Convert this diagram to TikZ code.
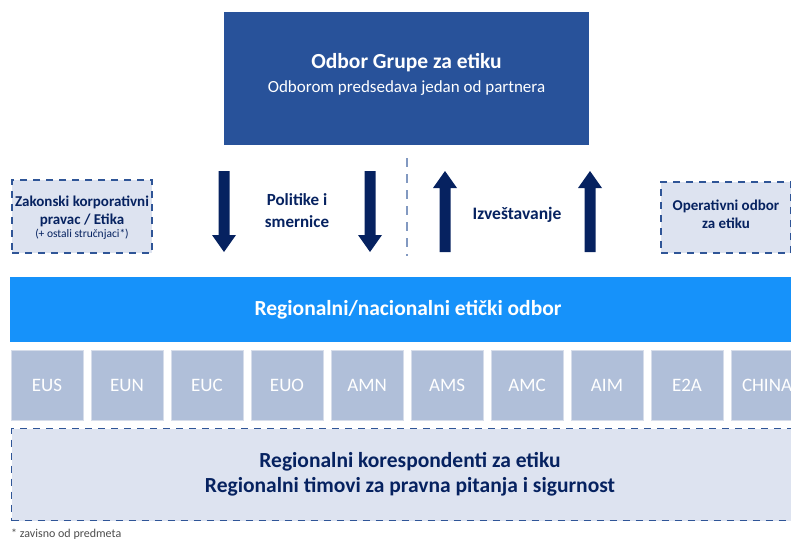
\documentclass[tikz,border=0pt]{standalone}
\usepackage{fontspec}
\setmainfont{Carlito}
\definecolor{topblue}{RGB}{40,82,154}
\definecolor{band}{RGB}{22,146,250}
\definecolor{navy}{RGB}{6,34,96}
\definecolor{dashc}{RGB}{47,85,151}
\definecolor{pale}{RGB}{221,227,240}
\definecolor{region}{RGB}{176,191,217}
\definecolor{regline}{RGB}{214,221,234}
\begin{document}
\begin{tikzpicture}[x=1pt,y=-1pt,
  dashbox/.style={draw=dashc,line width=1.4pt,dash pattern=on 7pt off 6pt,fill=pale,inner sep=0pt},
  regbox/.style={draw=regline,line width=0.8pt,fill=region,minimum width=72pt,minimum height=70pt,inner sep=0pt},
  regtext/.style={text=white,font=\fontsize{19}{22}\selectfont},
  navytext/.style={text=navy,font=\bfseries\fontsize{15}{18}\selectfont,align=center},
  bigarrow/.style={fill=navy,draw=none}]
\useasboundingbox (0,0) rectangle (791,542);
% top box
\node[fill=topblue,minimum width=365pt,minimum height=133pt,inner sep=0pt] (top) at (406.5,78.5) {};
\node[text=white,font=\bfseries\fontsize{21.5}{25}\selectfont] (toptitle) at (406.5,63) {Odbor Grupe za etiku};
\node[text=white,font=\fontsize{17}{20}\selectfont] (topsub) at (406.5,88) {Odborom predsedava jedan od partnera};
% side dashed boxes
\node[dashbox,minimum width=140pt,minimum height=73pt] (left) at (82,216.5) {};
\node[navytext,font=\bfseries\fontsize{15}{18}\selectfont] (lefttext) at (82,211) {Zakonski korporativni\\pravac / Etika};
\node[text=navy,font=\fontsize{11.5}{14}\selectfont] (leftsub) at (82,234) {(+ ostali stručnjaci*)};
\node[dashbox,minimum width=130pt,minimum height=71pt] (right) at (726,217.5) {};
\node[navytext] (righttext) at (726,214) {Operativni odbor\\za etiku};
% arrows
\foreach \cx in {224,370}{
  \fill[bigarrow] (\cx-5.5,171) -- (\cx+5.5,171) -- (\cx+5.5,235) -- (\cx+12,235) -- (\cx,252) -- (\cx-12,235) -- (\cx-5.5,235) -- cycle;
}
\foreach \cx in {445,590}{
  \fill[bigarrow] (\cx-5.5,252) -- (\cx+5.5,252) -- (\cx+5.5,188) -- (\cx+12,188) -- (\cx,171) -- (\cx-12,188) -- (\cx-5.5,188) -- cycle;
}
\node[navytext,font=\bfseries\fontsize{17}{22}\selectfont] (pol) at (297,211) {Politike i\\smernice};
\node[navytext,font=\bfseries\fontsize{17.5}{21}\selectfont] (izv) at (517,215) {Izveštavanje};
\coordinate (sepT) at (407,158);
\coordinate (sepB) at (407,256);
\draw[dashc!60,line width=1.2pt,dash pattern=on 9pt off 7pt] (sepT) -- (sepB);
% band
\node[fill=band,minimum width=781pt,minimum height=65pt,inner sep=0pt] (band) at (400.5,309.5) {};
\node[text=white,font=\bfseries\fontsize{21.5}{25}\selectfont] (bandtext) at (408,310) {Regionalni/nacionalni etički odbor};
% regions
\foreach \lab [count=\i from 0] in {EUS,EUN,EUC,EUO,AMN,AMS,AMC,AIM,E2A,CHINA}{
  \node[regbox,anchor=north west] (r\i) at (11+80*\i,350) {};
  \node[regtext] (rl\i) at (47+80*\i,385) {\lab};
}
% bottom dashed box
\node[dashbox,minimum width=800pt,minimum height=92pt,anchor=north west] (bottom) at (11,428) {};
\node[text=navy,font=\bfseries\fontsize{21.5}{25}\selectfont] (bottom1) at (410,462) {Regionalni korespondenti za etiku};
\node[text=navy,font=\bfseries\fontsize{21.5}{25}\selectfont] (bottom2) at (410,487) {Regionalni timovi za pravna pitanja i sigurnost};
\node[anchor=west,text=black!70,font=\fontsize{12}{14}\selectfont,inner sep=0pt] (foot) at (11,534) {* zavisno od predmeta};
\end{tikzpicture}
\end{document}
